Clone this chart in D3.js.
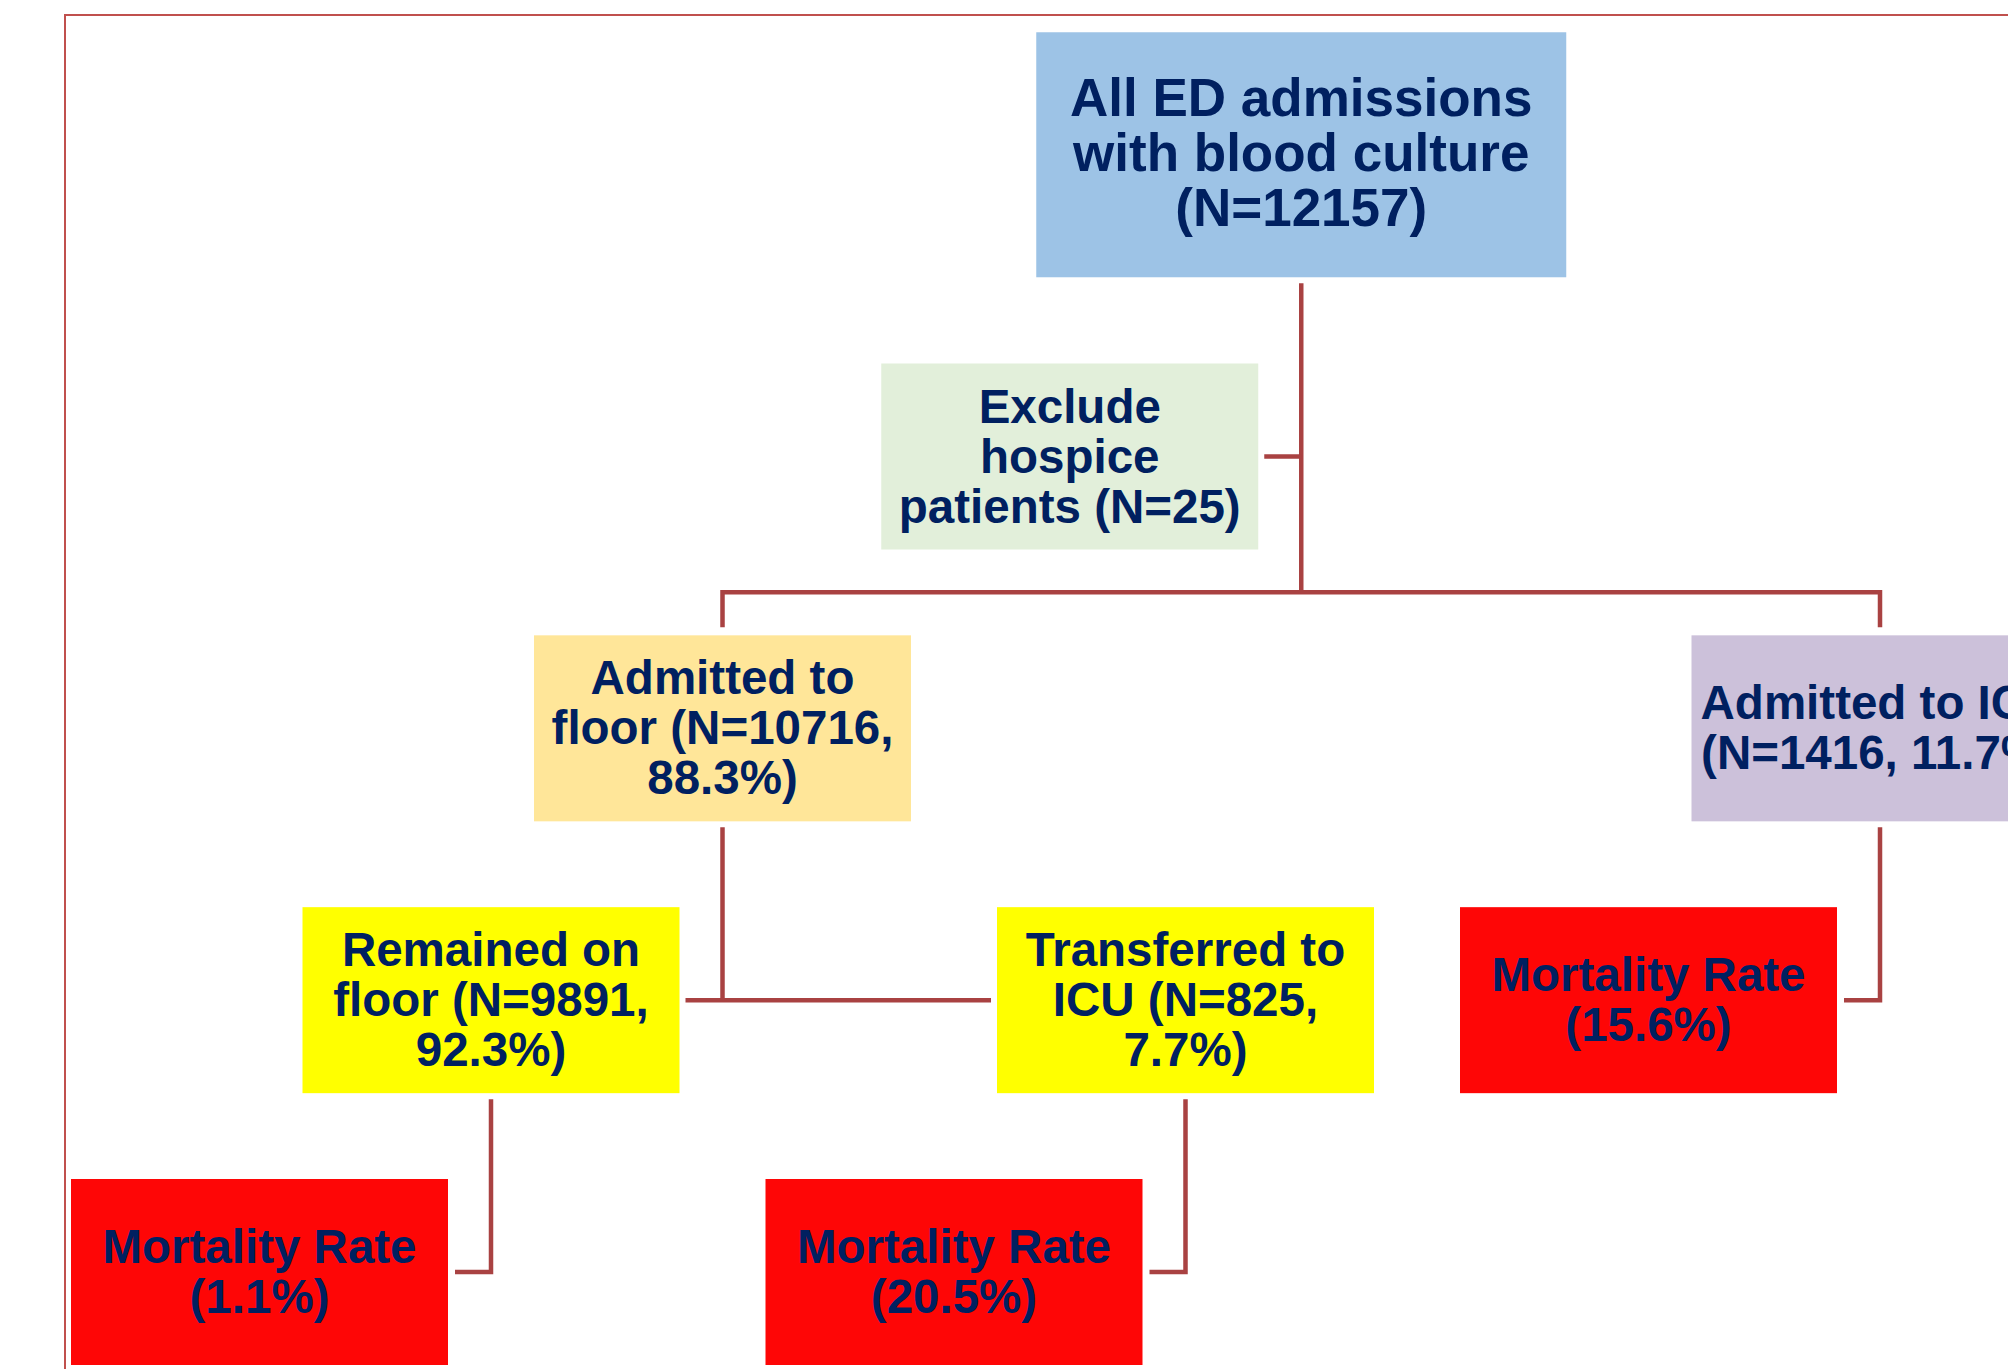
<!DOCTYPE html>
<html>
<head>
<meta charset="utf-8">
<script src="https://cdn.jsdelivr.net/npm/d3@7"></script>
<style>
    body { margin: 0; background: #fff; }
    text { font-family: "Liberation Sans", Arial, sans-serif; font-weight: bold; fill: #002060; }
</style>
</head>
<body>
<div id="canvas"></div>
<script>
var cohortN = 12157;
var excludedN = 25;
var admitN = [10716, 1416];          // floor, ICU
var admitPct = [88.3, 11.7];
var floorN = [9891, 825];            // remained on floor, transferred to ICU
var floorPct = [92.3, 7.7];
var mortality = [1.1, 20.5, 15.6];   // remained, transferred, admitted to ICU

var pct = d3.format(".1f");

// grid slot of every box (column / row index, converted by the scales below)
var layout = {
    all:             { col: 4.5, row: -0.11, big: true, fill: "#9dc3e6" },
    exclude:         { col: 3.5, row: 1, fill: "#e2efda" },
    floor:           { col: 2,   row: 2, fill: "#ffe699" },
    icu:             { col: 7,   row: 2, fill: "#ccc1da" },
    remained:        { col: 1,   row: 3, fill: "#ffff00" },
    transferred:     { col: 4,   row: 3, fill: "#ffff00" },
    mortIcu:         { col: 6,   row: 3, fill: "#fe0606" },
    mortRemained:    { col: 0,   row: 4, fill: "#fe0606" },
    mortTransferred: { col: 3,   row: 4, fill: "#fe0606" }
};

var labels = {
    all: ["All ED admissions", "with blood culture", "(N=" + cohortN + ")"],
    exclude: ["Exclude", "hospice", "patients (N=" + excludedN + ")"],
    floor: ["Admitted to", "floor (N=" + admitN[0] + ",", pct(admitPct[0]) + "%)"],
    icu: ["Admitted to ICU", "(N=" + admitN[1] + ", " + pct(admitPct[1]) + "%)"],
    remained: ["Remained on", "floor (N=" + floorN[0] + ",", pct(floorPct[0]) + "%)"],
    transferred: ["Transferred to", "ICU (N=" + floorN[1] + ",", pct(floorPct[1]) + "%)"],
    mortRemained: ["Mortality Rate", "(" + pct(mortality[0]) + "%)"],
    mortTransferred: ["Mortality Rate", "(" + pct(mortality[1]) + "%)"],
    mortIcu: ["Mortality Rate", "(" + pct(mortality[2]) + "%)"]
};

function init() {
    var W = 2008, H = 1369;
    var svg = d3.select("#canvas").append("svg")
        .attr("width", W)
        .attr("height", H);

    var x = d3.scaleLinear().domain([0, 7]).range([259.5, 1880]);
    var y = d3.scaleLinear().domain([1, 4]).range([456.5, 1272]);

    var boxW = 377, boxH = 186, bigW = 530, bigH = 245;
    var gap = 6;
    var lineColor = "#a94242";

    // page frame
    svg.append("path")
        .attr("d", "M65," + H + "V15H" + W)
        .attr("fill", "none")
        .attr("stroke", "#c0504d")
        .attr("stroke-width", 2);

    function box(id) {
        var l = layout[id];
        var w = l.big ? bigW : boxW, h = l.big ? bigH : boxH;
        var cx = x(l.col), cy = y(l.row);
        return { cx: cx, cy: cy, w: w, h: h,
            left: cx - w / 2, right: cx + w / 2, top: cy - h / 2, bottom: cy + h / 2 };
    }

    // connectors
    var line = d3.line();
    var links = svg.append("g")
        .attr("fill", "none")
        .attr("stroke", lineColor)
        .attr("stroke-width", 4.5)
        .attr("stroke-linejoin", "miter");

    var A = box("all"), E = box("exclude"), F = box("floor"), I = box("icu");
    var busY = F.top - 43;
    links.append("path").attr("d", line([[A.cx, A.bottom + gap], [A.cx, busY]]));
    links.append("path").attr("d", line([[E.right + gap, E.cy], [A.cx, E.cy]]));
    links.append("path").attr("d", line([[F.cx, F.top - 8], [F.cx, busY], [I.cx, busY], [I.cx, I.top - 8]]));

    var R = box("remained"), T = box("transferred");
    links.append("path").attr("d", line([[F.cx, F.bottom + gap], [F.cx, R.cy]]));
    links.append("path").attr("d", line([[R.right + gap, R.cy], [T.left - gap, T.cy]]));

    [["remained", "mortRemained"], ["transferred", "mortTransferred"], ["icu", "mortIcu"]].forEach(function (p) {
        var s = box(p[0]), m = box(p[1]);
        links.append("path")
            .attr("d", line([[s.cx, s.bottom + gap], [s.cx, m.cy], [m.right + 7, m.cy]]));
    });

    // boxes with text
    Object.keys(layout).forEach(function (id) {
        var b = box(id), l = layout[id];
        var g = svg.append("g");
        g.append("rect")
            .attr("x", b.left)
            .attr("y", b.top)
            .attr("width", b.w)
            .attr("height", b.h)
            .attr("fill", l.fill);
        var fs = l.big ? 53 : 47.5, lh = l.big ? 55 : 50;
        var shift = l.big ? -3 : -1;
        var lines = labels[id];
        g.selectAll("text")
            .data(lines)
            .enter().append("text")
            .attr("x", b.cx)
            .attr("y", function (d, i) { return b.cy + shift + (i - (lines.length - 1) / 2) * lh + 0.358 * fs; })
            .attr("text-anchor", "middle")
            .attr("font-size", fs)
            .text(function (d) { return d; });
    });
}
window.onload = init;
</script>
</body>
</html>
